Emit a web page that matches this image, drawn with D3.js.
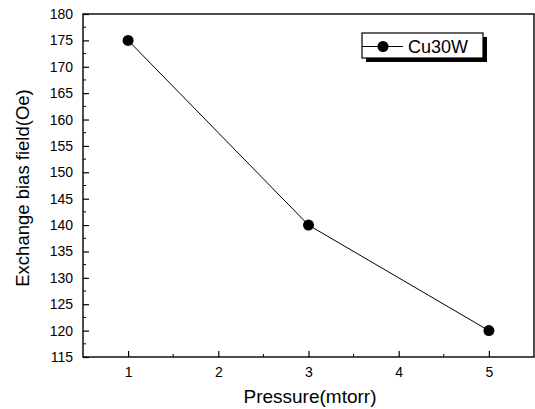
<!DOCTYPE html>
<html><head><meta charset="utf-8">
<script src="https://cdn.jsdelivr.net/npm/d3@7"></script>
<style>body{margin:0;background:#fff}svg{display:block}text{font-family:"Liberation Sans",Arial,sans-serif;fill:#000}</style>
</head><body><svg id="c" width="535" height="409"></svg>
<script>
const pressure = [1, 3, 5];
const biasField = [175, 140, 120];
const seriesName = "Cu30W";
const xTicks = [1, 2, 3, 4, 5];
const yTicks = [115,120,125,130,135,140,145,150,155,160,165,170,175,180];

const svg = d3.select("#c");
const L = 83, R = 534, T = 14, B = 357;
const x = d3.scaleLinear().domain([0.5, 5.5]).range([L, R]);
const y = d3.scaleLinear().domain([115, 180]).range([B, T]);

// frame
svg.append("rect").attr("x", L).attr("y", T).attr("width", R - L).attr("height", B - T)
  .attr("fill", "none").attr("stroke", "#000").attr("stroke-width", 1.4);

// y axis
const yAxis = svg.append("g").attr("transform", `translate(${L},0)`)
  .call(d3.axisLeft(y).tickValues(yTicks).tickSize(-6).tickPadding(10).tickFormat(d3.format("d")));
yAxis.select(".domain").remove();
yAxis.selectAll("line").attr("stroke-width", 1.2);
yAxis.selectAll("text").attr("font-size", 14).attr("font-family", "Liberation Sans, Arial, sans-serif");
const yMinor = d3.range(117.5, 180, 5);
svg.append("g").selectAll("line").data(yMinor).join("line")
  .attr("x1", L).attr("x2", L + 3).attr("y1", d => y(d)).attr("y2", d => y(d)).attr("stroke", "#000");

// x axis
const xAxis = svg.append("g").attr("transform", `translate(0,${B})`)
  .call(d3.axisBottom(x).tickValues(xTicks).tickSize(-6).tickPadding(10).tickFormat(d3.format("d")));
xAxis.select(".domain").remove();
xAxis.selectAll("line").attr("stroke-width", 1.2);
xAxis.selectAll("text").attr("font-size", 14).attr("font-family", "Liberation Sans, Arial, sans-serif");
const xMinor = d3.range(1.5, 5, 1);
svg.append("g").selectAll("line").data(xMinor).join("line")
  .attr("x1", d => x(d)).attr("x2", d => x(d)).attr("y1", B).attr("y2", B - 3).attr("stroke", "#000");

// titles
svg.append("text").attr("x", 310).attr("y", 403).attr("text-anchor", "middle")
  .attr("font-size", 19).text("Pressure(mtorr)");
svg.append("text").attr("transform", `translate(29,188) rotate(-90)`).attr("text-anchor", "middle")
  .attr("font-size", 18.5).text("Exchange bias field(Oe)");

// line + markers
const data = pressure.map((p, i) => ({p, v: biasField[i]}));
svg.append("path").datum(data)
  .attr("d", d3.line().x(d => x(d.p)).y(d => y(d.v)))
  .attr("fill", "none").attr("stroke", "#000").attr("stroke-width", 1);
svg.append("g").selectAll("circle").data(data).join("circle")
  .attr("cx", d => x(d.p)).attr("cy", d => y(d.v)).attr("r", 5.5).attr("fill", "#000");

// legend
const lx = 362, ly = 33, lw = 121, lh = 25;
svg.append("rect").attr("x", lx + 4).attr("y", ly + 4).attr("width", lw).attr("height", lh).attr("fill", "#000");
svg.append("rect").attr("x", lx).attr("y", ly).attr("width", lw).attr("height", lh)
  .attr("fill", "#fff").attr("stroke", "#000").attr("stroke-width", 1.2);
svg.append("line").attr("x1", lx).attr("x2", lx + 41).attr("y1", ly + lh / 2 + 1).attr("y2", ly + lh / 2 + 1).attr("stroke", "#000");
svg.append("circle").attr("cx", lx + 21).attr("cy", ly + lh / 2 + 1).attr("r", 5.5).attr("fill", "#000");
svg.append("text").attr("x", lx + 46).attr("y", ly + lh / 2 + 7).attr("font-size", 18).text(seriesName);
</script></body></html>
